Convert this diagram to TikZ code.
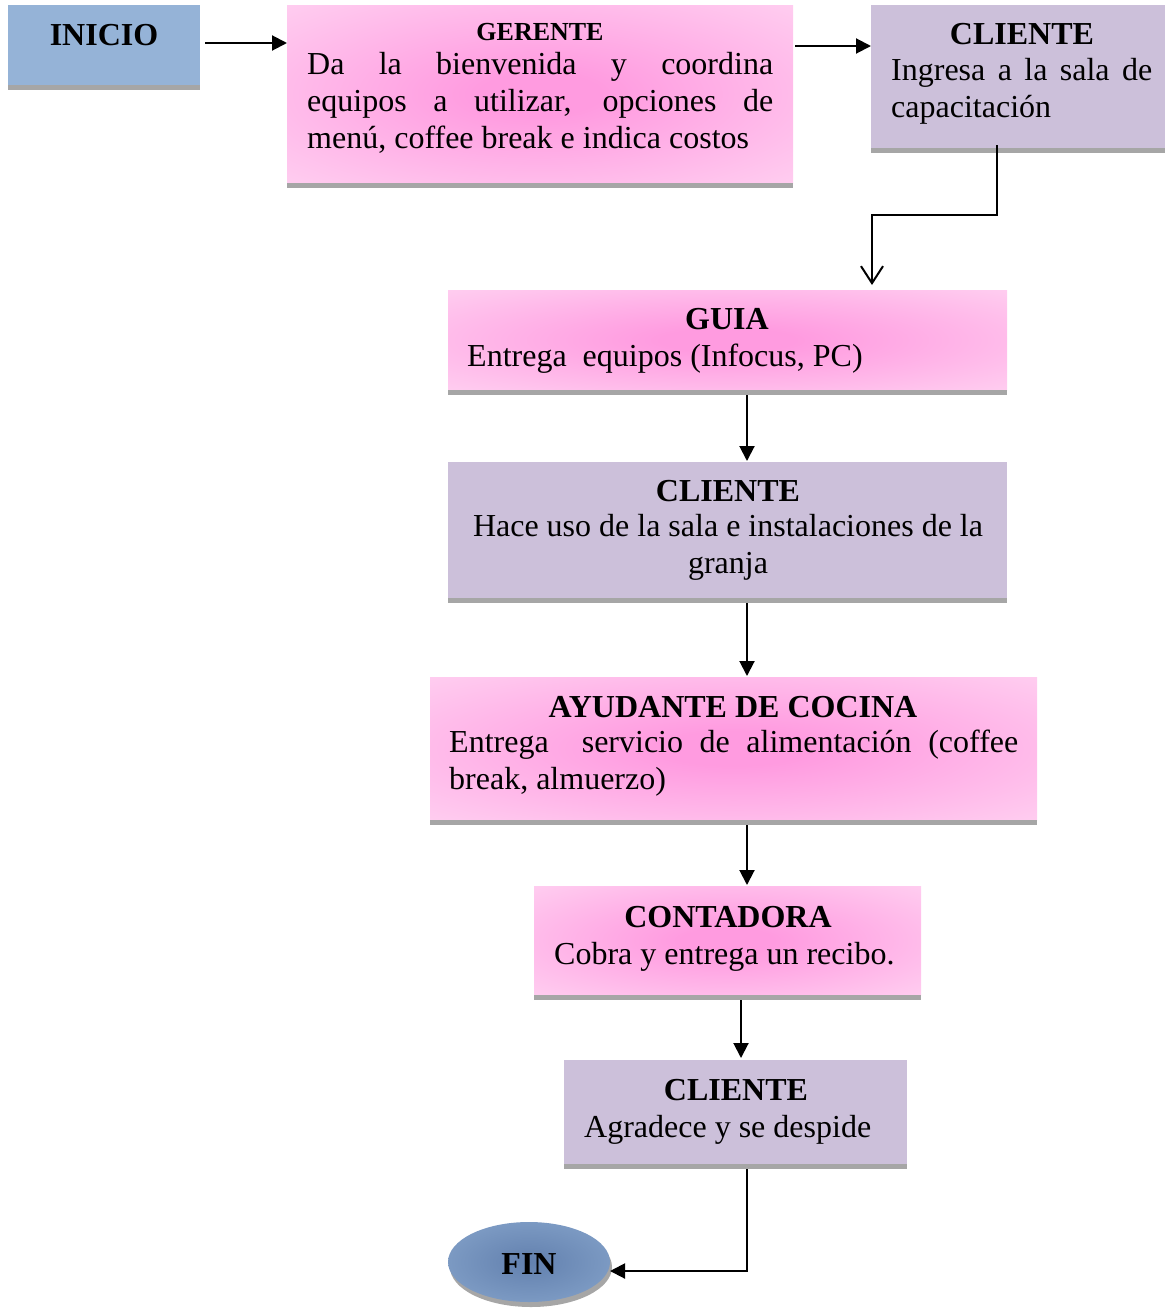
\documentclass[tikz,border=0pt]{standalone}
\usepackage{fontspec}
\setmainfont{Liberation Serif}
\usetikzlibrary{arrows.meta,shapes.geometric}
\definecolor{inicioblue}{RGB}{149,179,215}
\definecolor{lilac}{RGB}{204,192,218}
\definecolor{shadowgray}{RGB}{166,166,166}
\definecolor{pinkc}{RGB}{255,155,224}
\definecolor{pinkmid}{RGB}{255,196,237}
\definecolor{pinkedge}{RGB}{255,228,247}
\definecolor{finc}{RGB}{98,128,174}
\pgfdeclareradialshading{pinkglow}{\pgfpoint{0bp}{0bp}}{color(0bp)=(pinkc); color(6bp)=(pinkc); color(30bp)=(pinkmid); color(50bp)=(pinkedge)}
\pgfdeclareradialshading{finglow}{\pgfpoint{0bp}{0bp}}{color(0bp)=(finc); color(50bp)=(inicioblue)}
\begin{document}
\begin{tikzpicture}[x=1pt,y=-1pt,
  box/.style={rectangle, inner sep=0pt, outer sep=0pt, draw=none},
  bluebox/.style={box, fill=inicioblue},
  lilacbox/.style={box, fill=lilac},
  pinkbox/.style={box, shade, shading=pinkglow},
  ttl/.style={anchor=base, inner sep=0pt, font=\fontsize{32}{37}\selectfont\bfseries},
  smallttl/.style={anchor=base, inner sep=0pt, font=\fontsize{26}{30}\selectfont\bfseries},
  txt/.style={anchor=base west, inner sep=0pt, font=\fontsize{32}{37}\selectfont},
  ctxt/.style={anchor=base, inner sep=0pt, font=\fontsize{32}{37}\selectfont},
  arr/.style={line width=2pt, -{Triangle[length=15pt,width=15pt]}},
  openarr/.style={line width=2pt, -{Straight Barb[length=17pt,width=22pt,line width=2pt]}},
  shadowbar/.style={fill=shadowgray, draw=none}]
\useasboundingbox (0,0) rectangle (1167,1312);

% boxes
\node[bluebox, minimum width=192pt, minimum height=80pt] (inicio) at (104,45) {};
\node[pinkbox, minimum width=506pt, minimum height=178pt] (gerente) at (540,94) {};
\node[lilacbox, minimum width=294pt, minimum height=143pt] (cliente1) at (1018,76.5) {};
\node[pinkbox, minimum width=559pt, minimum height=100pt] (guia) at (727.5,340) {};
\node[lilacbox, minimum width=559pt, minimum height=136pt] (cliente2) at (727.5,530) {};
\node[pinkbox, minimum width=607pt, minimum height=143pt] (ayudante) at (733.5,748.5) {};
\node[pinkbox, minimum width=387pt, minimum height=109pt] (contadora) at (727.5,940.5) {};
\node[lilacbox, minimum width=343pt, minimum height=104pt] (cliente3) at (735.5,1112) {};
\fill[shadowgray] (531,1267) ellipse [x radius=81pt, y radius=40pt];
\node[ellipse, inner sep=0pt, outer sep=0pt, minimum width=162pt, minimum height=80pt, shade, shading=finglow] (fin) at (529,1262) {};

% shadows
\foreach \b in {inicio,gerente,cliente1,guia,cliente2,ayudante,contadora,cliente3}
  \fill[shadowbar] (\b.south west) rectangle ([yshift=-5pt]\b.south east);

% texts
\node[ttl] (inicioT) at (104,45) {INICIO};

\node[smallttl] (gerenteT) at (540,40) {GERENTE};
\node[txt] (gerenteL1) at (307,74) {\makebox[466pt][s]{Da la bienvenida y coordina}};
\node[txt] (gerenteL2) at (307,111) {\makebox[466pt][s]{equipos a utilizar, opciones de}};
\node[txt] (gerenteL3) at (307,148) {menú, coffee break e indica costos};

\node[ttl] (cliente1T) at (1022,44) {CLIENTE};
\node[txt] (cliente1L1) at (891,80) {\makebox[261pt][s]{Ingresa a la sala de}};
\node[txt] (cliente1L2) at (891,117) {capacitación};

\node[ttl] (guiaT) at (727,329) {GUIA};
\node[txt] (guiaL1) at (467,366) {Entrega\ \ equipos (Infocus, PC)};

\node[ttl] (cliente2T) at (728,501) {CLIENTE};
\node[ctxt] (cliente2L1) at (728,536) {Hace uso de la sala e instalaciones de la};
\node[ctxt] (cliente2L2) at (728,573) {granja};

\node[ttl] (ayudanteT) at (733,717) {AYUDANTE DE COCINA};
\node[txt] (ayudanteL1) at (449,752) {\makebox[569pt][s]{Entrega\ \ servicio de alimentación (coffee}};
\node[txt] (ayudanteL2) at (449,789) {break, almuerzo)};

\node[ttl] (contadoraT) at (728,927) {CONTADORA};
\node[txt] (contadoraL1) at (554,964) {Cobra y entrega un recibo.};

\node[ttl] (cliente3T) at (736,1100) {CLIENTE};
\node[txt] (cliente3L1) at (584,1137) {Agradece y se despide};

\node[ttl] (finT) at (529,1274) {FIN};

% connectors
\draw[arr] ([shift={(5pt,2pt)}]inicio.east) -- ([yshift=2pt]gerente.west |- inicio.east);
\draw[arr] ([shift={(2pt,-41pt)}]gerente.north east) -- ([yshift=-41pt]cliente1.north west);
\draw[openarr] ([shift={(-21pt,3pt)}]cliente1.south) -- ++(0,70) -| ([shift={(144.5pt,5pt)}]guia.north);
\draw[arr] ([shift={(19.5pt,-5pt)}]guia.south) -- ([shift={(19.5pt,1pt)}]cliente2.north);
\draw[arr] ([shift={(19.5pt,-5pt)}]cliente2.south) -- ([shift={(13.5pt,1pt)}]ayudante.north);
\draw[arr] ([shift={(13.5pt,-5pt)}]ayudante.south) -- ([shift={(19.5pt,1pt)}]contadora.north);
\draw[arr] ([shift={(13.5pt,-5pt)}]contadora.south) -- ([shift={(5.5pt,2pt)}]cliente3.north);
\draw[arr] ([shift={(11.5pt,-5pt)}]cliente3.south) -- ++(0,102) -- ([yshift=-9pt]fin.east);
\end{tikzpicture}
\end{document}
